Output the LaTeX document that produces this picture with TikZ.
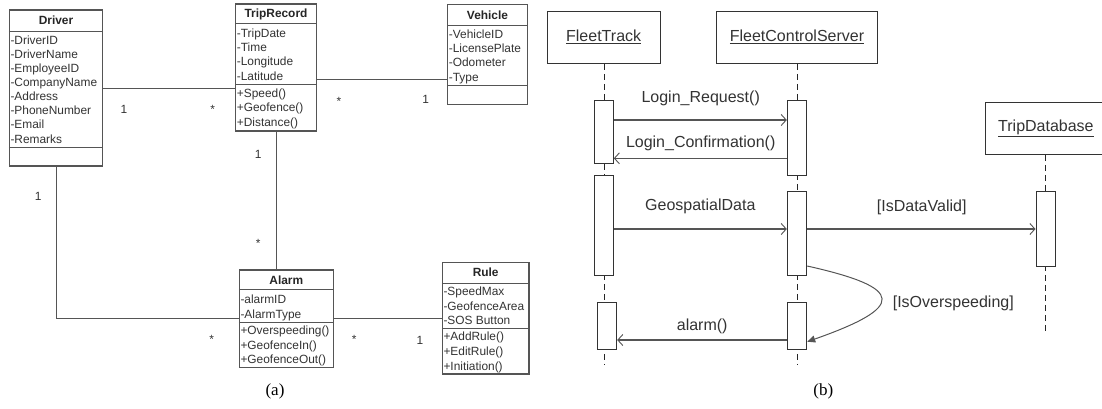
\documentclass[tikz,border=0pt]{standalone}
\usepackage{fontspec}
\setmainfont{Liberation Sans}
\newfontfamily\capfont{Liberation Serif}
\usetikzlibrary{arrows.meta,calc}
\definecolor{linec}{HTML}{555555}
\definecolor{txtc}{HTML}{333333}
\tikzset{
  umlbox/.style={draw=linec, line width=1.1pt, inner sep=0pt, fill=white},
  umlsep/.style={draw=linec, line width=1.1pt},
  assoc/.style={draw=linec, line width=1pt},
  attr/.style={anchor=base west, inner sep=0pt, text=txtc, font=\fontsize{11.9}{14}\selectfont},
  ttl/.style={anchor=center, inner sep=0pt, text=black!85, font=\fontsize{11.9}{14}\selectfont\bfseries},
  mult/.style={anchor=center, inner sep=0pt, text=txtc, font=\fontsize{11.9}{14}\selectfont},
  objbox/.style={draw=black!80, line width=1pt, inner sep=0pt, fill=white, text=txtc, font=\fontsize{16}{19}\selectfont},
  actbox/.style={draw=black!80, line width=1pt, inner sep=0pt, fill=white},
  lifeline/.style={draw=black!85, line width=1pt, dash pattern=on 6pt off 4pt},
  msg/.style={draw=linec, line width=1.1pt, -{Straight Barb[length=5pt,width=11pt,line width=0.9pt]}},
  selfmsg/.style={draw=linec, line width=1pt, -{Triangle[length=8pt,width=7pt]}},
  msglbl/.style={anchor=center, inner sep=0pt, text=txtc, font=\fontsize{16}{19}\selectfont},
  caplbl/.style={anchor=center, inner sep=0pt, text=black, font=\capfont\fontsize{17}{20}\selectfont}
}
\begin{document}
\begin{tikzpicture}[x=1pt,y=-1pt]
\useasboundingbox (0,0) rectangle (1102,408);
% ---------------- (a) class diagram ----------------
% Driver
\node[umlbox, minimum width=93.4, minimum height=156] (driver) at (56,88) {};
\draw[umlsep] ($(driver.north west)+(0,21.7)$) -- ($(driver.north east)+(0,21.7)$);
\draw[umlsep] ($(driver.north west)+(0,138)$) -- ($(driver.north east)+(0,138)$);
\node[ttl] (driverT) at (56,20.7) {Driver};
\foreach \t [count=\i] in {-DriverID,-DriverName,-EmployeeID,-CompanyName,-Address,-PhoneNumber,-Email,-Remarks}
  \node[attr] (drvA\i) at (10.3,{44+14.15*(\i-1)}) {\t};
% TripRecord
\node[umlbox, minimum width=80.6, minimum height=127] (trip) at (276,67.5) {};
\draw[umlsep] ($(trip.north west)+(0,20.3)$) -- ($(trip.north east)+(0,20.3)$);
\draw[umlsep] ($(trip.north west)+(0,81)$) -- ($(trip.north east)+(0,81)$);
\node[ttl] (tripT) at (276,14.3) {TripRecord};
\foreach \t [count=\i] in {-TripDate,-Time,-Longitude,-Latitude}
  \node[attr] (trpA\i) at (236.7,{37.7+14.1*(\i-1)}) {\t};
\foreach \t [count=\i] in {+Speed(),+Geofence(),+Distance()}
  \node[attr] (trpM\i) at (236.7,{97.7+14.15*(\i-1)}) {\t};
% Vehicle
\node[umlbox, minimum width=79.6, minimum height=100] (veh) at (487.5,54.7) {};
\draw[umlsep] ($(veh.north west)+(0,21.3)$) -- ($(veh.north east)+(0,21.3)$);
\draw[umlsep] ($(veh.north west)+(0,81.3)$) -- ($(veh.north east)+(0,81.3)$);
\node[ttl] (vehT) at (487.5,15.7) {Vehicle};
\foreach \t [count=\i] in {-VehicleID,-LicensePlate,-Odometer,-Type}
  \node[attr] (vehA\i) at (448.7,{38+14.4*(\i-1)}) {\t};
% Alarm
\node[umlbox, minimum width=94, minimum height=97.7] (alarm) at (286.3,318.85) {};
\draw[umlsep] ($(alarm.north west)+(0,20)$) -- ($(alarm.north east)+(0,20)$);
\draw[umlsep] ($(alarm.north west)+(0,52.7)$) -- ($(alarm.north east)+(0,52.7)$);
\node[ttl] (alarmT) at (286.3,280) {Alarm};
\foreach \t [count=\i] in {-alarmID,-AlarmType}
  \node[attr] (almA\i) at (240.3,{303+15*(\i-1)}) {\t};
\foreach \t [count=\i] in {+Overspeeding(),+GeofenceIn(),+GeofenceOut()}
  \node[attr] (almM\i) at (240.3,{334.7+14.3*(\i-1)}) {\t};
% Rule
\node[umlbox, minimum width=86.7, minimum height=111.3] (rule) at (485.65,318.35) {};
\draw[umlsep] ($(rule.north west)+(0,21.3)$) -- ($(rule.north east)+(0,21.3)$);
\draw[umlsep] ($(rule.north west)+(0,66.6)$) -- ($(rule.north east)+(0,66.6)$);
\node[ttl] (ruleT) at (485.65,272.7) {Rule};
\foreach \t [count=\i] in {-SpeedMax,-GeofenceArea,-SOS Button}
  \node[attr] (rulA\i) at (443.3,{295.7+14.5*(\i-1)}) {\t};
\foreach \t [count=\i] in {+AddRule(),+EditRule(),+Initiation()}
  \node[attr] (rulM\i) at (443.3,{340.7+14.65*(\i-1)}) {\t};
% associations
\coordinate (yDT) at (0,88.3);
\coordinate (yTV) at (0,79.3);
\coordinate (xTA) at (276,0);
\coordinate (yDA) at (0,318.3);
\coordinate (xDA) at (56,0);
\draw[assoc] (driver.east |- yDT) -- (trip.west |- yDT);
\draw[assoc] (trip.east |- yTV) -- (veh.west |- yTV);
\draw[assoc] (trip.south -| xTA) -- (alarm.north -| xTA);
\draw[assoc] (driver.south -| xDA) -- (xDA |- yDA) -- (alarm.west |- yDA);
\draw[assoc] (alarm.east |- yDA) -- (rule.west |- yDA);
% multiplicities
\node[mult] (m1) at (124,109) {1};
\node[mult] (m2) at (212.7,109.5) {*};
\node[mult] (m3) at (339,101) {*};
\node[mult] (m4) at (425.7,99.3) {1};
\node[mult] (m5) at (258.3,154.3) {1};
\node[mult] (m6) at (258.3,243.5) {*};
\node[mult] (m7) at (38.3,196.7) {1};
\node[mult] (m8) at (211.7,339.5) {*};
\node[mult] (m9) at (354.3,339) {*};
\node[mult] (m10) at (420,340) {1};
\node[caplbl] (capa) at (275,391.7) {(a)};
% ---------------- (b) sequence diagram ----------------
\node[objbox, minimum width=112.7, minimum height=52.3] (ft) at (603.65,37.15) {\underline{FleetTrack}};
\node[objbox, minimum width=160.6, minimum height=52.3] (srv) at (797,37.15) {\underline{FleetControlServer}};
\node[objbox, minimum width=120.4, minimum height=52] (db) at (1045.9,128.3) {\underline{TripDatabase}};
% lifelines
\coordinate (ftEnd) at (604.3,364);
\coordinate (srvEnd) at (797.3,364);
\coordinate (dbEnd) at (1045.7,331.7);
\draw[lifeline] (ft.south -| ftEnd) -- (ftEnd);
\draw[lifeline] (srv.south -| srvEnd) -- (srvEnd);
\draw[lifeline] (db.south -| dbEnd) -- (dbEnd);
% activations
\node[actbox, minimum width=19, minimum height=63.3] (ft1) at (603.8,131.65) {};
\node[actbox, minimum width=19, minimum height=100.7] (ft2) at (603.8,225.35) {};
\node[actbox, minimum width=19, minimum height=46.3] (ft3) at (607.2,325.85) {};
\node[actbox, minimum width=19.4, minimum height=75] (s1) at (797,137.5) {};
\node[actbox, minimum width=19.4, minimum height=84] (s2) at (797,233.7) {};
\node[actbox, minimum width=19.4, minimum height=46.3] (s3) at (797,325.85) {};
\node[actbox, minimum width=19.7, minimum height=74.3] (db1) at (1045.85,228.85) {};
% messages
\coordinate (y1) at (0,120);
\coordinate (y2) at (0,158.3);
\coordinate (y3) at (0,229);
\coordinate (y4) at (0,340);
\coordinate (yc1) at (0,266);
\coordinate (yc2) at (0,341.7);
\draw[msg] (ft1.east |- y1) -- (s1.west |- y1);
\draw[msg] (s1.west |- y2) -- (ft1.east |- y2);
\draw[msg] (ft2.east |- y3) -- (s2.west |- y3);
\draw[msg] (s2.east |- y3) -- (db1.west |- y3);
\draw[msg] (s3.west |- y4) -- (ft3.east |- y4);
\draw[selfmsg] (s2.east |- yc1) .. controls (905.8,288) and (905.8,307) .. (s3.east |- yc2);
% message labels
\node[msglbl] (l1) at (700.7,98.3) {Login\_Request()};
\node[msglbl] (l2) at (700.7,143.3) {Login\_Confirmation()};
\node[msglbl] (l3) at (700.3,206.7) {GeospatialData};
\node[msglbl] (l4) at (921.7,207.3) {[IsDataValid]};
\node[msglbl] (l5) at (953.3,303.3) {[IsOverspeeding]};
\node[msglbl] (l6) at (702.2,326) {alarm()};
\node[caplbl] (capb) at (823.3,391.7) {(b)};
\end{tikzpicture}
\end{document}
